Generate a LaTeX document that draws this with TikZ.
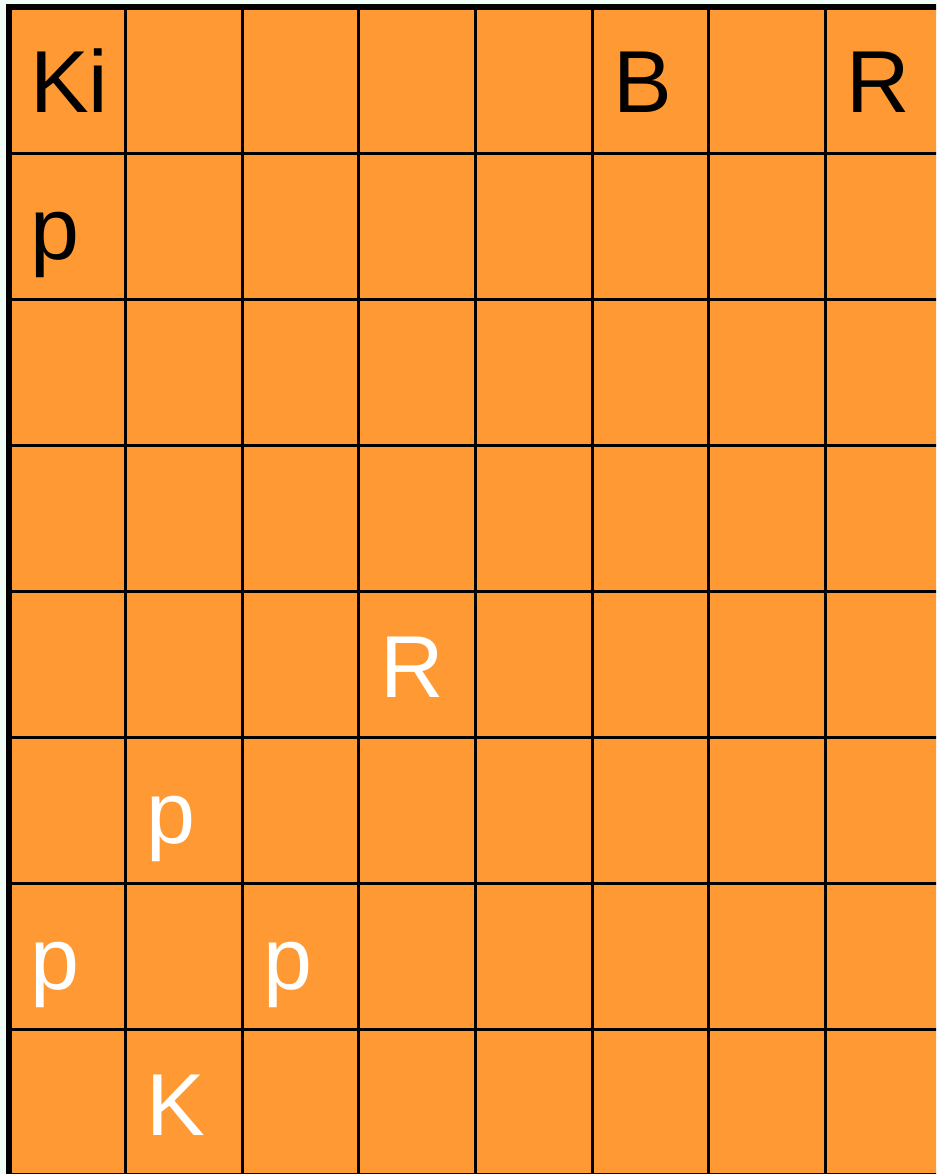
\documentclass[tikz,border=0pt]{standalone}
\usepackage{fontspec}
\setmainfont{Liberation Sans}
\usepackage{tikz}
\usetikzlibrary{positioning}

\definecolor{boardorange}{RGB}{255,153,51}
\definecolor{mintbg}{RGB}{240,255,246}

\begin{document}
\begin{tikzpicture}[x=1pt, y=-1pt,
    piece/.style={anchor=base west, inner sep=0pt, font=\fontsize{88}{88}\selectfont},
    blackpiece/.style={piece, text=black},
    whitepiece/.style={piece, text=white},
    gridline/.style={draw=black, line width=3pt},
    edgeline/.style={draw=black, line width=6pt}]
  \useasboundingbox[fill=mintbg] (0,0) rectangle (936,1174);
  \clip (0,0) rectangle (936,1174);
  % board
  \fill[boardorange] (9,7) rectangle (942.2,1175.8);
  \foreach \i in {1,...,7} {
    \draw[gridline] (9+\i*116.65,7) -- (9+\i*116.65,1175.8);
    \draw[gridline] (9,7+\i*146.1) -- (942.2,7+\i*146.1);
  }
  \draw[edgeline] (9,1175.8) -- (9,7) -- (942.2,7);
  \draw[edgeline] (9,1175.8) -- (942.2,1175.8);
  % pieces
  \node (Ki) [blackpiece] at (30,113) {Ki};
  \node (B) [blackpiece] at (613.25,113) {B};
  \node (R) [blackpiece] at (846.55,113) {R};
  \node (p) [blackpiece] at (30,259.1) {p};
  \node (R1) [whitepiece] at (379.95,697.4) {R};
  \node (p1) [whitepiece] at (146.65,843.5) {p};
  \node (p2) [whitepiece] at (30,989.6) {p};
  \node (p3) [whitepiece] at (263.3,989.6) {p};
  \node (K) [whitepiece] at (146.65,1135.7) {K};
\end{tikzpicture}
\end{document}
